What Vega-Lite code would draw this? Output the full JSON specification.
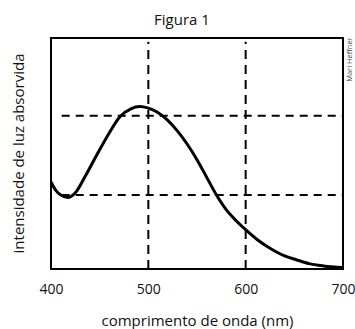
{
  "$schema": "https://vega.github.io/schema/vega-lite/v6.json",
  "width": 292,
  "height": 231,
  "autosize": {"type": "none"},
  "padding": {"left": 51, "top": 38, "right": 12, "bottom": 60},
  "background": "white",
  "config": {
    "font": "Open Sans",
    "view": {"stroke": "black", "strokeWidth": 2}
  },
  "title": {
    "text": "Figura 1",
    "fontSize": 15,
    "fontWeight": "normal",
    "color": "#111",
    "anchor": "middle",
    "dx": -15,
    "offset": 9
  },
  "datasets": {
    "curve": [
      {"wl": 400, "abs": 1.13},
      {"wl": 405, "abs": 1.02},
      {"wl": 410, "abs": 0.96},
      {"wl": 418, "abs": 0.93},
      {"wl": 425, "abs": 0.99},
      {"wl": 435, "abs": 1.2},
      {"wl": 447, "abs": 1.48},
      {"wl": 460, "abs": 1.77},
      {"wl": 471, "abs": 1.98},
      {"wl": 482, "abs": 2.08},
      {"wl": 491, "abs": 2.11},
      {"wl": 500, "abs": 2.09},
      {"wl": 509, "abs": 2.04},
      {"wl": 520, "abs": 1.93},
      {"wl": 530, "abs": 1.79},
      {"wl": 540, "abs": 1.62},
      {"wl": 550, "abs": 1.42},
      {"wl": 560, "abs": 1.19},
      {"wl": 570, "abs": 0.96},
      {"wl": 580, "abs": 0.77},
      {"wl": 590, "abs": 0.63},
      {"wl": 600, "abs": 0.51},
      {"wl": 612, "abs": 0.38},
      {"wl": 625, "abs": 0.27},
      {"wl": 640, "abs": 0.17},
      {"wl": 652, "abs": 0.12},
      {"wl": 665, "abs": 0.07},
      {"wl": 680, "abs": 0.04},
      {"wl": 700, "abs": 0.02}
    ],
    "vrules": [
      {"wl": 500, "y1": 0, "y2": 2.95},
      {"wl": 600, "y1": 0, "y2": 2.95}
    ],
    "hrules": [
      {"x1": 411, "x2": 700, "lvl": 0.96},
      {"x1": 411, "x2": 700, "lvl": 1.99}
    ],
    "credit": [
      {"wl": 707, "abs": 2.72, "label": "Mari Heffner"}
    ]
  },
  "layer": [
    {
      "data": {"name": "vrules"},
      "mark": {"type": "rule", "color": "black", "strokeWidth": 2, "strokeDash": [9, 6]},
      "encoding": {
        "x": {
          "field": "wl",
          "type": "quantitative",
          "scale": {"domain": [400, 700], "nice": false, "zero": false},
          "axis": {
            "values": [400, 500, 600, 700],
            "grid": false,
            "ticks": false,
            "domain": false,
            "labelFontSize": 14,
            "labelColor": "#111",
            "labelPadding": 13,
            "labelFlush": false,
            "title": "comprimento de onda (nm)",
            "titleFontSize": 15,
            "titleFontWeight": "normal",
            "titleColor": "#111",
            "titleBaseline": "middle",
            "titleY": 51
          }
        },
        "y": {
          "field": "y1",
          "type": "quantitative",
          "scale": {"domain": [0, 3], "nice": false},
          "axis": {
            "labels": false,
            "ticks": false,
            "grid": false,
            "domain": false,
            "title": "intensidade de luz absorvida",
            "titleFontSize": 15,
            "titleFontWeight": "normal",
            "titleColor": "#111",
            "titleBaseline": "middle",
            "titleX": -33,
            "titleY": 115
          }
        },
        "y2": {"field": "y2"}
      }
    },
    {
      "data": {"name": "hrules"},
      "mark": {"type": "rule", "color": "black", "strokeWidth": 2, "strokeDash": [8, 6]},
      "encoding": {
        "x": {"field": "x1", "type": "quantitative"},
        "x2": {"field": "x2"},
        "y": {"field": "lvl", "type": "quantitative"}
      }
    },
    {
      "data": {"name": "curve"},
      "mark": {"type": "line", "color": "black", "strokeWidth": 3, "interpolate": "monotone"},
      "encoding": {
        "x": {"field": "wl", "type": "quantitative"},
        "y": {"field": "abs", "type": "quantitative"}
      }
    },
    {
      "data": {"name": "credit"},
      "mark": {"type": "text", "angle": 270, "fontSize": 7.5, "color": "#444", "clip": false, "baseline": "middle", "align": "center"},
      "encoding": {
        "x": {"field": "wl", "type": "quantitative"},
        "y": {"field": "abs", "type": "quantitative"},
        "text": {"field": "label"}
      }
    }
  ]
}
